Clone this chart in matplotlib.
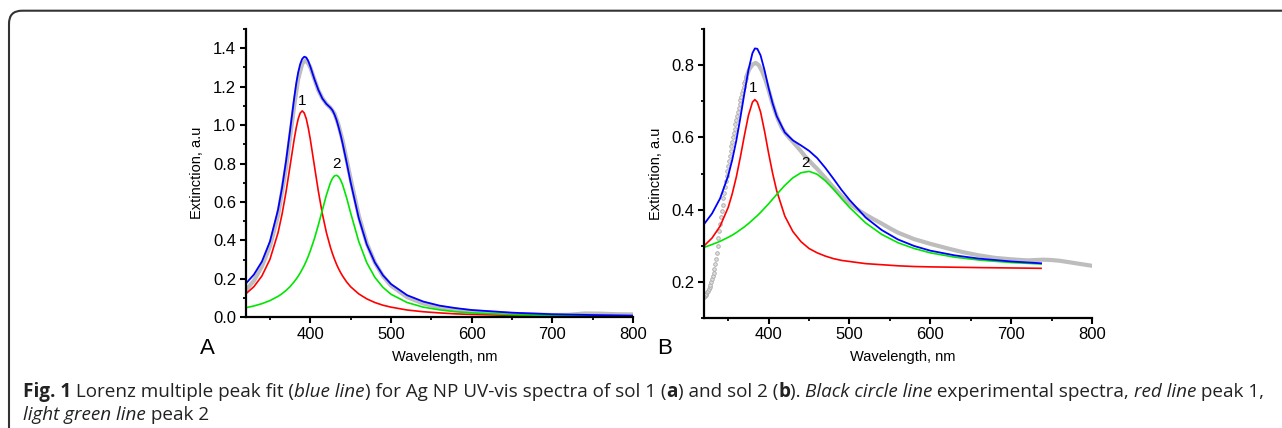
import numpy as np
import matplotlib
matplotlib.use('Agg')
import matplotlib.pyplot as plt
from matplotlib.ticker import MultipleLocator
from matplotlib.patches import FancyBboxPatch

# ---- panel A (sol 1) ----
wl_a = [320, 330, 340, 350, 360, 365, 370, 375, 380, 382.5, 385, 387.5, 390, 392.5, 395,
        397.5, 400, 405, 410, 415, 420, 425, 427.5, 430, 432.5, 435, 437.5, 440, 445, 450,
        460, 470, 480, 490, 500, 520, 540, 560, 580, 600, 650, 700, 750, 800]
red_a = [0.122, 0.159, 0.215, 0.302, 0.440, 0.537, 0.655, 0.790, 0.926, 0.985, 1.033,
         1.063, 1.074, 1.063, 1.033, 0.985, 0.926, 0.790, 0.655, 0.537, 0.440, 0.363,
         0.331, 0.302, 0.276, 0.253, 0.233, 0.215, 0.184, 0.159, 0.122, 0.096, 0.077,
         0.063, 0.053, 0.038, 0.029, 0.023, 0.018, 0.015, 0.010, 0.007, 0.005, 0.004]
green_a = [0.050, 0.059, 0.071, 0.087, 0.109, 0.123, 0.140, 0.160, 0.185, 0.199, 0.214,
           0.231, 0.250, 0.270, 0.293, 0.318, 0.346, 0.408, 0.481, 0.559, 0.637, 0.701,
           0.723, 0.736, 0.739, 0.732, 0.715, 0.690, 0.622, 0.543, 0.395, 0.284, 0.208,
           0.156, 0.120, 0.077, 0.053, 0.039, 0.029, 0.023, 0.014, 0.009, 0.007, 0.005]
blue_a = [0.175, 0.222, 0.290, 0.395, 0.560, 0.675, 0.815, 0.975, 1.140, 1.215, 1.275,
          1.318, 1.345, 1.356, 1.352, 1.333, 1.305, 1.240, 1.183, 1.138, 1.110, 1.090,
          1.077, 1.055, 1.027, 0.990, 0.950, 0.905, 0.806, 0.702, 0.517, 0.379, 0.285,
          0.219, 0.173, 0.115, 0.082, 0.061, 0.048, 0.038, 0.024, 0.016, 0.012, 0.009]
wl_exp_a = [320, 330, 340, 350, 360, 370, 380, 385, 390, 395, 400, 405, 410, 415, 420,
            425, 430, 435, 440, 445, 450, 460, 470, 480, 490, 500, 520, 540, 560, 580,
            600, 650, 700, 720, 740, 760, 780, 800]
exp_a = [0.140, 0.190, 0.265, 0.370, 0.530, 0.780, 1.100, 1.240, 1.320, 1.340, 1.300,
         1.240, 1.180, 1.140, 1.110, 1.090, 1.060, 1.000, 0.920, 0.820, 0.720, 0.530,
         0.385, 0.285, 0.215, 0.165, 0.105, 0.072, 0.052, 0.040, 0.031, 0.018, 0.012,
         0.013, 0.020, 0.019, 0.016, 0.015]

# ---- panel B (sol 2) ----
wl_b = [320, 330, 340, 350, 355, 360, 365, 370, 375, 380, 383, 386, 390, 395, 400, 405,
        410, 420, 430, 440, 450, 460, 470, 480, 490, 500, 520, 540, 560, 580, 600, 630,
        660, 700, 737]
red_b = [0.299, 0.321, 0.354, 0.406, 0.444, 0.490, 0.545, 0.605, 0.661, 0.698, 0.705,
         0.698, 0.671, 0.617, 0.556, 0.500, 0.452, 0.382, 0.339, 0.311, 0.292, 0.280,
         0.271, 0.264, 0.259, 0.256, 0.250, 0.247, 0.244, 0.242, 0.241, 0.240, 0.239,
         0.238, 0.237]
green_b = [0.295, 0.303, 0.312, 0.323, 0.329, 0.336, 0.344, 0.352, 0.361, 0.371, 0.377,
           0.383, 0.392, 0.404, 0.416, 0.429, 0.442, 0.467, 0.488, 0.502, 0.506, 0.498,
           0.480, 0.457, 0.431, 0.406, 0.363, 0.331, 0.308, 0.292, 0.280, 0.268, 0.260,
           0.253, 0.249]
blue_b = [0.359, 0.389, 0.431, 0.494, 0.538, 0.591, 0.654, 0.722, 0.787, 0.834, 0.847,
          0.846, 0.828, 0.786, 0.737, 0.694, 0.659, 0.614, 0.592, 0.578, 0.563, 0.543,
          0.516, 0.486, 0.455, 0.427, 0.378, 0.343, 0.317, 0.299, 0.286, 0.273, 0.264,
          0.256, 0.251]
# experimental points on the steep rising edge (sparse circles)
wl_rise_b = list(range(320, 373))
rise_b = [0.158, 0.160, 0.163, 0.166, 0.170, 0.175, 0.180, 0.186, 0.192, 0.199, 0.207,
          0.215, 0.225, 0.236, 0.249, 0.263, 0.280, 0.299, 0.320, 0.341, 0.360, 0.379,
          0.397, 0.414, 0.431, 0.447, 0.463, 0.479, 0.494, 0.508, 0.522, 0.536, 0.549,
          0.562, 0.575, 0.588, 0.600, 0.612, 0.624, 0.636, 0.648, 0.660, 0.671, 0.682,
          0.693, 0.703, 0.713, 0.723, 0.732, 0.741, 0.750, 0.758, 0.766]
wl_exp_b = [372, 376, 380, 384, 388, 392, 396, 400, 404, 408, 412, 416, 420, 425, 430,
            435, 440, 445, 450, 455, 460, 470, 480, 490, 500, 510, 520, 530, 540, 550,
            560, 580, 600, 620, 640, 660, 680, 700, 720, 740, 750, 760, 780, 800]
exp_b = [0.766, 0.789, 0.802, 0.807, 0.800, 0.783, 0.760, 0.731, 0.700, 0.672, 0.648,
         0.628, 0.614, 0.600, 0.588, 0.575, 0.562, 0.548, 0.536, 0.524, 0.513, 0.488,
         0.462, 0.438, 0.417, 0.400, 0.386, 0.373, 0.361, 0.348, 0.336, 0.318, 0.305,
         0.293, 0.282, 0.273, 0.266, 0.262, 0.259, 0.261, 0.260, 0.258, 0.251, 0.244]

TICK_FONT = 'Liberation Sans'
plt.rcParams['font.family'] = TICK_FONT
BLUE, RED, GREEN, GRAY = '#0000ff', '#ff0000', '#00e600', '#bdbdbd'

fig = plt.figure(figsize=(12.82, 4.28), dpi=100)


def style_axes(ax, ylim, ymajor):
    ax.set_xlim(320, 800)
    ax.set_ylim(*ylim)
    for side in ('top', 'right'):
        ax.spines[side].set_visible(False)
    for side in ('left', 'bottom'):
        ax.spines[side].set_linewidth(1.6)
    ax.xaxis.set_major_locator(MultipleLocator(100))
    ax.xaxis.set_minor_locator(MultipleLocator(50))
    ax.yaxis.set_major_locator(MultipleLocator(ymajor))
    ax.yaxis.set_minor_locator(MultipleLocator(0.1))
    ax.yaxis.set_major_formatter('{x:.1f}')
    ax.tick_params(which='major', direction='out', length=4, width=1.5, pad=3,
                   labelsize=12)
    ax.tick_params(which='minor', direction='out', length=2.5, width=1.3)
    ax.set_xlabel('Wavelength, nm', fontsize=10.5)
    ax.set_ylabel('Extinction, a.u', fontsize=10.5)
    ax.patch.set_alpha(0)


ax_a = fig.add_axes([0.1917, 0.2586, 0.3021, 0.6736])
ax_a.plot(wl_exp_a, exp_a, color=GRAY, lw=3.0, solid_capstyle='round')
ax_a.plot(wl_a, red_a, color=RED, lw=1.2)
ax_a.plot(wl_a, green_a, color=GREEN, lw=1.2)
ax_a.plot(wl_a, blue_a, color=BLUE, lw=1.3)
style_axes(ax_a, (0, 1.5), 0.2)
ax_a.text(389.7, 1.125, '1', fontsize=11, ha='center', va='center')
ax_a.text(433, 0.796, '2', fontsize=11, ha='center', va='center')
ax_a.xaxis.set_label_coords(0.515, -0.113)
ax_a.yaxis.set_label_coords(-0.1077, 0.5)

ax_b = fig.add_axes([0.5491, 0.2577, 0.3027, 0.6738])
ax_b.plot(wl_rise_b, rise_b, ls='none', marker='o', ms=2.6, mfc='#e0e0e0',
          mec='#a8a8a8', mew=0.6)
ax_b.plot(wl_exp_b, exp_b, color=GRAY, lw=3.0, solid_capstyle='round')
ax_b.plot(wl_b, red_b, color=RED, lw=1.2)
ax_b.plot(wl_b, green_b, color=GREEN, lw=1.2)
ax_b.plot(wl_b, blue_b, color=BLUE, lw=1.3)
style_axes(ax_b, (0.1, 0.9), 0.2)
ax_b.text(381.4, 0.737, '1', fontsize=11, ha='center', va='center')
ax_b.text(445, 0.528, '2', fontsize=11, ha='center', va='center')
ax_b.xaxis.set_label_coords(0.513, -0.113)
ax_b.yaxis.set_label_coords(-0.1057, 0.5)

# overlay in pixel units for frame, panel letters and caption
ov = fig.add_axes([0, 0, 1, 1])
ov.set_xlim(0, 1282)
ov.set_ylim(428, 0)
ov.axis('off')
ov.patch.set_alpha(0)
frame = FancyBboxPatch((9, 10.7), 1500, 600, boxstyle='round,pad=0,rounding_size=13',
                       fc='none', ec='#333333', lw=1.5)
ov.add_patch(frame)
ov.text(207, 348, 'A', fontsize=16, ha='center', va='center')
ov.text(665, 348, 'B', fontsize=16, ha='center', va='center')

CAP_FONT = 'Open Sans'
line1 = [('Fig. 1', 'bold', 'normal'),
         (' Lorenz multiple peak fit (', 'normal', 'normal'),
         ('blue line', 'normal', 'italic'),
         (') for Ag NP UV-vis spectra of sol 1 (', 'normal', 'normal'),
         ('a', 'bold', 'normal'),
         (') and sol 2 (', 'normal', 'normal'),
         ('b', 'bold', 'normal'),
         ('). ', 'normal', 'normal'),
         ('Black circle line', 'normal', 'italic'),
         (' experimental spectra, ', 'normal', 'normal'),
         ('red line', 'normal', 'italic'),
         (' peak 1,', 'normal', 'normal')]
line2 = [('light green line', 'normal', 'italic'),
         (' peak 2', 'normal', 'normal')]

renderer = fig.canvas.get_renderer()


def piece_width(s, weight, style, size):
    kw = dict(family=CAP_FONT, weight=weight, style=style, fontsize=size)
    t1 = ov.text(0, 0, s + 'x', **kw)
    t2 = ov.text(0, 0, 'x', **kw)
    w = t1.get_window_extent(renderer).width - t2.get_window_extent(renderer).width
    t1.remove()
    t2.remove()
    return w


base = 10.0
total = sum(piece_width(s, w, st, base) for s, w, st in line1)
cap_size = base * (1262 - 23) / total


def put_line(pieces, y):
    x = 23
    for s, weight, style in pieces:
        ov.text(x, y, s, family=CAP_FONT, weight=weight, style=style,
                fontsize=cap_size, va='baseline', ha='left', color='#222222')
        x += piece_width(s, weight, style, cap_size)


put_line(line1, 397)
put_line(line2, 420)

fig.savefig('out.png', dpi=100)
